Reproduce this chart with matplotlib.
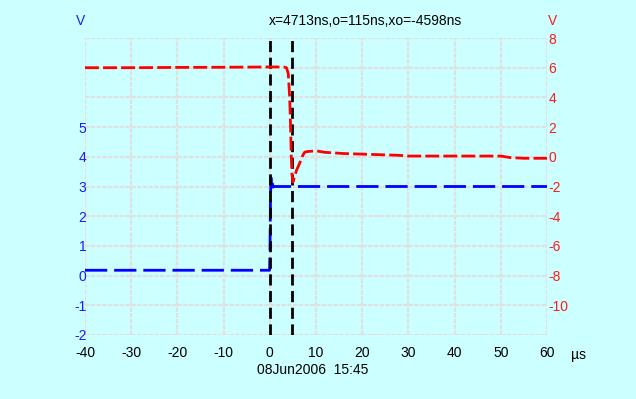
import numpy as np
import matplotlib
matplotlib.use("Agg")
import matplotlib.pyplot as plt

plt.rcParams['font.family'] = ['Liberation Sans', 'DejaVu Sans']

# channel 1 (blue, left axis) in V vs time in us
ch1_t = [-40, -0.05, 0.05, 0.15, 0.25, 0.35, 0.5, 0.7, 1.0, 2.0, 60]
ch1_v = [0.18, 0.18, 1.0, 2.6, 3.3, 3.0, 3.15, 2.98, 3.0, 3.0, 3.0]

# channel 2 (red, right axis) in V vs time in us
ch2_t = [-40, -30, -20, -10, 0, 3.0, 3.6, 4.0, 4.3, 4.5, 4.65, 4.8, 5.0, 5.3,
         5.8, 6.5, 7.0, 7.5, 8.0, 10, 12, 16, 18, 28, 30, 50, 52, 55, 60]
ch2_v = [6.0, 6.0, 6.02, 6.03, 6.05, 6.05, 6.0, 5.6, 4.0, 2.0, 0.0, -1.2, -1.7, -1.4,
         -0.9, -0.4, 0.0, 0.3, 0.35, 0.4, 0.3, 0.22, 0.2, 0.1, 0.05, 0.05, -0.05, -0.1, -0.1]

cursor_o = 0.115
cursor_x = 4.713

x_ticks = [-40, -30, -20, -10, 0, 10, 20, 30, 40, 50, 60]
left_ticks = [-2, -1, 0, 1, 2, 3, 4, 5]
right_ticks = [-10, -8, -6, -4, -2, 0, 2, 4, 6, 8]

bg = '#ccffff'
blue = '#1a1aff'
red = '#ff1a1a'
fs = 10

fig = plt.figure(figsize=(6.36, 3.99), dpi=100, facecolor=bg)
ax = fig.add_axes([85 / 636, 1 - 335 / 399, (547 - 85) / 636, (335 - 38) / 399])
ax.set_facecolor(bg)
ax2 = ax.twinx()

ax.set_xlim(-40, 60)
ax.set_ylim(-2, 8)
ax2.set_ylim(-12, 8)

# grid: 10 divisions vertically, every 10 us horizontally
for xv in x_ticks:
    ax.axvline(xv, color='#e0e0e0', lw=1.6, ls=(0, (2, 0.6)), zorder=0)
for yv in np.arange(-2, 8.01, 1):
    ax.axhline(yv, color='#e0e0e0', lw=1.6, ls=(0, (2, 0.6)), zorder=0)

ax.plot(ch1_t, ch1_v, color='#0000ff', lw=2, ls=(0, (8, 2.5)), zorder=3)
ax2.plot(ch2_t, ch2_v, color='#ff0000', lw=2, ls=(0, (5, 1.5)), zorder=3)

for cx in (cursor_o, cursor_x):
    ax.axvline(cx, color='black', lw=2, ls=(0, (4, 2)), zorder=4)

for a in (ax, ax2):
    for s in a.spines.values():
        s.set_visible(False)

ax.set_xticks(x_ticks)
ax.set_xticklabels([str(v) for v in x_ticks])
ax.set_yticks(left_ticks)
ax.set_yticklabels([str(v) for v in left_ticks])
ax2.set_yticks(right_ticks)
ax2.set_yticklabels([str(v) for v in right_ticks])
ax.tick_params(axis='x', length=0, pad=8, labelsize=fs, labelcolor='black')
ax.tick_params(axis='y', length=0, pad=-1, labelsize=fs, labelcolor=blue)
ax2.tick_params(axis='y', length=0, pad=1, labelsize=fs, labelcolor=red)

fig.text(365 / 636, 1 - 21 / 399, 'x=4713ns,o=115ns,xo=-4598ns', ha='center', va='center',
         fontsize=fs, color='black')
fig.text(81 / 636, 1 - 21 / 399, 'V', ha='center', va='center', fontsize=fs, color=blue)
fig.text(553 / 636, 1 - 21 / 399, 'V', ha='center', va='center', fontsize=fs, color=red)
fig.text(578 / 636, 1 - 355 / 399, 'µs', ha='center', va='center', fontsize=fs, color='black')
fig.text(313 / 636, 1 - 370 / 399, '08Jun2006  15:45', ha='center', va='center',
         fontsize=fs, color='black')

fig.savefig('out.png', dpi=100, facecolor=bg)
